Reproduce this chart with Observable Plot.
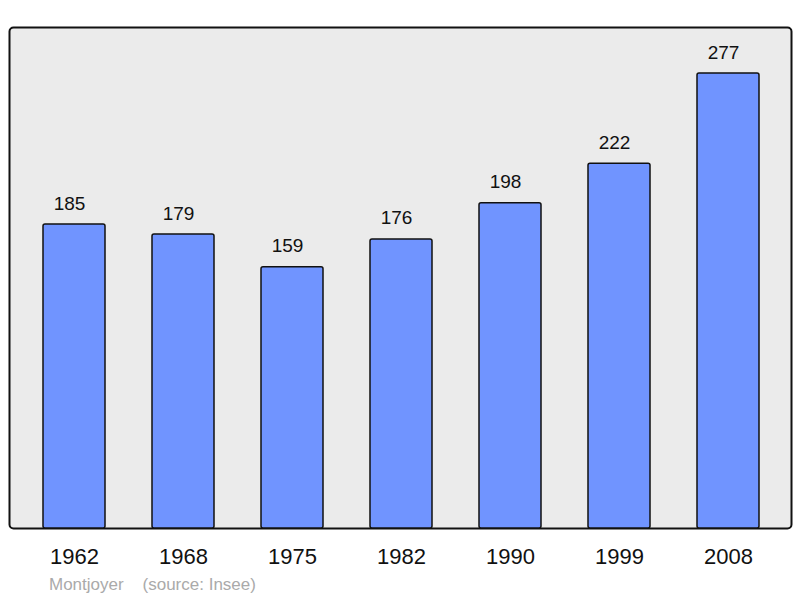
<!DOCTYPE html>
<html>
<head>
<meta charset="utf-8">
<script src="https://cdn.jsdelivr.net/npm/d3@7"></script>
<script src="https://cdn.jsdelivr.net/npm/@observablehq/plot@0.6"></script>
<style>
  html, body { margin: 0; padding: 0; background: #ffffff; }
  #chart svg { display: block; }
  #caption {
    height: 26px; line-height: 26px; padding-left: 49px;
    font-family: "Liberation Sans", Arial, sans-serif; font-size: 17px;
    color: #aaaaaa; white-space: pre;
  }
</style>
</head>
<body>
<div id="chart"></div>
<div id="caption">Montjoyer    (source: Insee)</div>
<script>
const years = ["1962", "1968", "1975", "1982", "1990", "1999", "2008"];
const population = [185, 179, 159, 176, 198, 222, 277];

const data = years.map((year, i) => ({year, value: population[i]}));

const chart = Plot.plot({
  width: 800,
  height: 572,
  marginLeft: 9,
  marginRight: 9,
  marginTop: 27,
  marginBottom: 44,
  style: {fontFamily: "Liberation Sans, Arial, sans-serif", background: "white", color: "black"},
  x: {domain: years, paddingInner: 0.429, paddingOuter: 0.286, align: 0.522, label: null},
  y: {domain: [0, 305], axis: null},
  marks: [
    Plot.frame({fill: "#ebebeb", stroke: "#111111", strokeWidth: 2, rx: 4}),
    Plot.barY(data, {x: "year", y: "value", fill: "#7094ff", stroke: "#111111", strokeWidth: 1.5, rx: 2}),
    Plot.text(data, {x: "year", y: "value", text: d => String(d.value), dx: -5, dy: -21, fontSize: 19, fill: "#111111"}),
    Plot.axisX({tickSize: 0, tickPadding: 20, fontSize: 22, label: null, fill: "#111111"})
  ]
});
document.getElementById("chart").appendChild(chart);
</script>
</body>
</html>
